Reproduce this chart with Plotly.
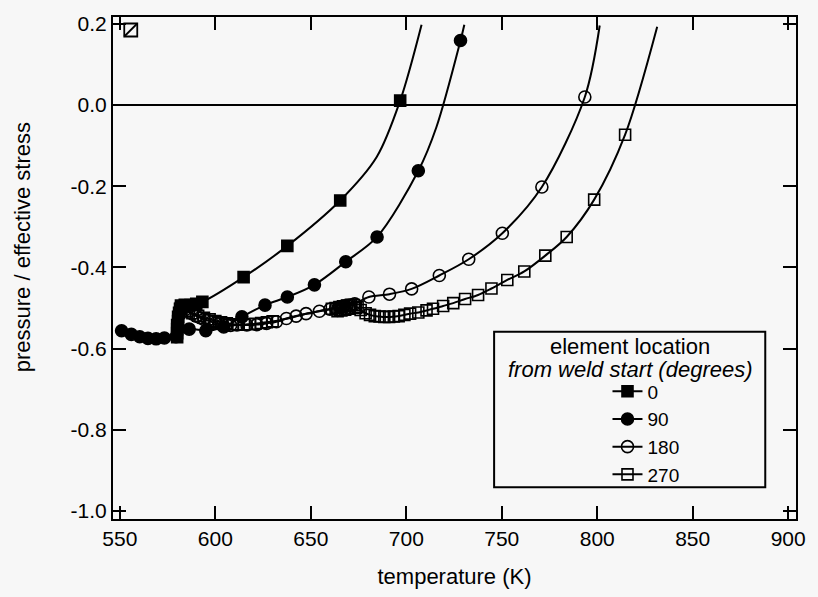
import plotly.graph_objects as go

# ---------------- data ----------------
# element at 0 degrees (filled squares)
t_0 = [580, 580, 580, 580, 580.5, 580.5, 581, 581.5, 582, 584, 587, 590,
       593.2, 614.8, 637.7, 665.4, 684.5, 696.8, 708]
p_0 = [-0.572, -0.562, -0.552, -0.542, -0.532, -0.522, -0.512, -0.502, -0.494,
       -0.492, -0.493, -0.49, -0.485, -0.424, -0.347, -0.235, -0.128, 0.011, 0.198]
m_0 = [1, 1, 1, 1, 1, 1, 1, 1, 1, 1, 1, 1, 1, 1, 1, 1, 0, 1, 0]

# element at 90 degrees (filled circles)
t_90 = [550.9, 556, 560.4, 564.7, 569, 573.3, 579.4, 586.3, 595, 604.4, 613.9,
        626, 637.7, 651.9, 668.3, 684.7, 706.3, 715.8, 728.4, 730.4]
p_90 = [-0.556, -0.565, -0.571, -0.575, -0.576, -0.574, -0.571, -0.552, -0.556,
        -0.547, -0.522, -0.493, -0.473, -0.443, -0.386, -0.325, -0.162, -0.054,
        0.159, 0.198]
m_90 = [1, 1, 1, 1, 1, 1, 1, 1, 1, 1, 1, 1, 1, 1, 1, 1, 1, 0, 1, 0]

# element at 180 degrees (open circles)
t_180 = [582, 584, 586, 588, 590, 592, 594, 596, 598, 600, 602, 604, 606, 608,
         611.3, 616.5, 621.7, 626.8, 632, 637.2, 642.3, 647.5, 654.5, 660, 663,
         664, 665, 666, 667, 668, 669, 670, 671, 673, 680.4, 691.2, 702.8,
         717.3, 732.7, 750.3, 771, 793.5, 801.3]
p_180 = [-0.50, -0.505, -0.51, -0.515, -0.52, -0.524, -0.528, -0.531, -0.534,
         -0.537, -0.539, -0.541, -0.542, -0.543, -0.542, -0.542, -0.541, -0.538,
         -0.534, -0.526, -0.52, -0.514, -0.508, -0.503, -0.50, -0.506, -0.497,
         -0.505, -0.495, -0.503, -0.494, -0.501, -0.493, -0.49, -0.473, -0.466,
         -0.453, -0.42, -0.38, -0.316, -0.202, 0.02, 0.196]
m_180 = [1] * 42 + [0]

# element at 270 degrees (open squares)
t_270 = [582, 585, 588, 591, 594, 597, 600, 603, 606, 609, 612, 615, 618, 621,
         624, 627, 630, 634, 638, 642, 646, 650, 654, 658, 661, 663, 664, 665,
         666, 667, 668, 669, 670, 671, 672.6, 673.5, 674.5, 676.1, 678.7, 681,
         683.5, 686, 688.5, 691, 693.5, 696, 699, 702, 706.3, 710.6, 714, 719.3,
         724.6, 730.8, 737.6, 744.6, 752.9, 761.8, 772.8, 784, 798.4, 814.6,
         831.4]
p_270 = [-0.50, -0.507, -0.513, -0.519, -0.524, -0.528, -0.532, -0.535, -0.538,
         -0.54, -0.541, -0.541, -0.54, -0.539, -0.537, -0.535, -0.533, -0.53,
         -0.526, -0.521, -0.516, -0.513, -0.508, -0.504, -0.502, -0.50, -0.508,
         -0.498, -0.506, -0.496, -0.504, -0.494, -0.502, -0.492, -0.493, -0.5,
         -0.498, -0.505, -0.513, -0.517, -0.52, -0.521, -0.522, -0.522, -0.521,
         -0.52, -0.517, -0.514, -0.511, -0.506, -0.502, -0.495, -0.488, -0.478,
         -0.468, -0.452, -0.431, -0.41, -0.371, -0.325, -0.233, -0.073, 0.193]
m_270 = [1] * 17 + [0] * 7 + [1] * 38 + [0]

# stray mark in the upper left corner
stray_t = [555.7]
stray_p = [0.185]

x_ticks = [550, 600, 650, 700, 750, 800, 850, 900]
y_ticks = [0.2, 0.0, -0.2, -0.4, -0.6, -0.8, -1.0]
y_tick_labels = ["0.2", "0.0", "-0.2", "-0.4", "-0.6", "-0.8", "-1.0"]

series = [
    ("0", t_0, p_0, m_0, "square", 11),
    ("90", t_90, p_90, m_90, "circle", 12),
    ("180", t_180, p_180, m_180, "circle-open", 12),
    ("270", t_270, p_270, m_270, "square-open", 11),
]

FONT = "Liberation Sans, Arial, Helvetica, sans-serif"
BG = "#f7f7f7"

fig = go.Figure()
for name, t, p, m, sym, size in series:
    fig.add_trace(go.Scatter(x=t, y=p, mode="lines",
                             line=dict(color="black", width=2, shape="spline", smoothing=0.9),
                             showlegend=False, hoverinfo="skip"))
    mt = [a for a, k in zip(t, m) if k]
    mp = [b for b, k in zip(p, m) if k]
    mk = dict(symbol=sym, size=size, color="black", line=dict(color="black", width=1.6))
    fig.add_trace(go.Scatter(x=mt, y=mp, mode="markers", marker=mk,
                             showlegend=False))
    fig.add_trace(go.Scatter(x=[None], y=[None], mode="lines+markers", name=name,
                             line=dict(color="black", width=2), marker=mk))

fig.add_trace(go.Scatter(x=stray_t, y=stray_p, mode="markers", showlegend=False,
                         marker=dict(symbol="square-open", size=13, color="black",
                                     line=dict(width=1.8))))
fig.add_trace(go.Scatter(x=stray_t, y=stray_p, mode="markers", showlegend=False,
                         marker=dict(symbol="line-ne", size=13, color="black",
                                     line=dict(width=1.8, color="black"))))

# legend frame and title
fig.add_shape(type="rect", xref="paper", yref="paper", x0=0.558, x1=0.955,
              y0=0.063, y1=0.373, line=dict(color="black", width=2), fillcolor=BG,
              layer="below")
fig.add_annotation(xref="paper", yref="paper", x=0.757, y=0.343, xanchor="center",
                   yanchor="middle", text="element location", showarrow=False,
                   font=dict(size=22, family=FONT, color="black"))
fig.add_annotation(xref="paper", yref="paper", x=0.757, y=0.297, xanchor="center",
                   yanchor="middle", text="<i>from weld start (degrees)</i>",
                   showarrow=False, font=dict(size=22, family=FONT, color="black"))

# y axis title
fig.add_annotation(xref="paper", yref="paper", x=-0.132, y=0.541, xanchor="center",
                   yanchor="middle", text="pressure / effective stress", textangle=-90,
                   showarrow=False, font=dict(size=22, family=FONT, color="black"))

axis_common = dict(showline=True, linecolor="black", linewidth=2, mirror="ticks",
                   ticks="inside", ticklen=13, tickwidth=2, tickcolor="black",
                   showgrid=False,
                   tickfont=dict(size=21, family=FONT, color="black"))

fig.update_xaxes(range=[546.4, 904.1], tickvals=x_ticks, zeroline=False,
                 title=dict(text="temperature (K)", font=dict(size=22, family=FONT, color="black"),
                            standoff=19),
                 **axis_common)
fig.update_yaxes(range=[-1.02, 0.217], tickvals=y_ticks, ticktext=y_tick_labels,
                 zeroline=True, zerolinecolor="black", zerolinewidth=2,
                 **axis_common)

fig.update_layout(
    width=818, height=597,
    margin=dict(l=113, r=15, t=12, b=78),
    paper_bgcolor=BG, plot_bgcolor=BG,
    font=dict(family=FONT, color="black"),
    legend=dict(x=0.724, y=0.292, xanchor="left", yanchor="top",
                bgcolor="rgba(0,0,0,0)", borderwidth=0,
                font=dict(size=19, family=FONT, color="black"),
                tracegroupgap=0),
    showlegend=True,
)

fig.write_html("out.html")
